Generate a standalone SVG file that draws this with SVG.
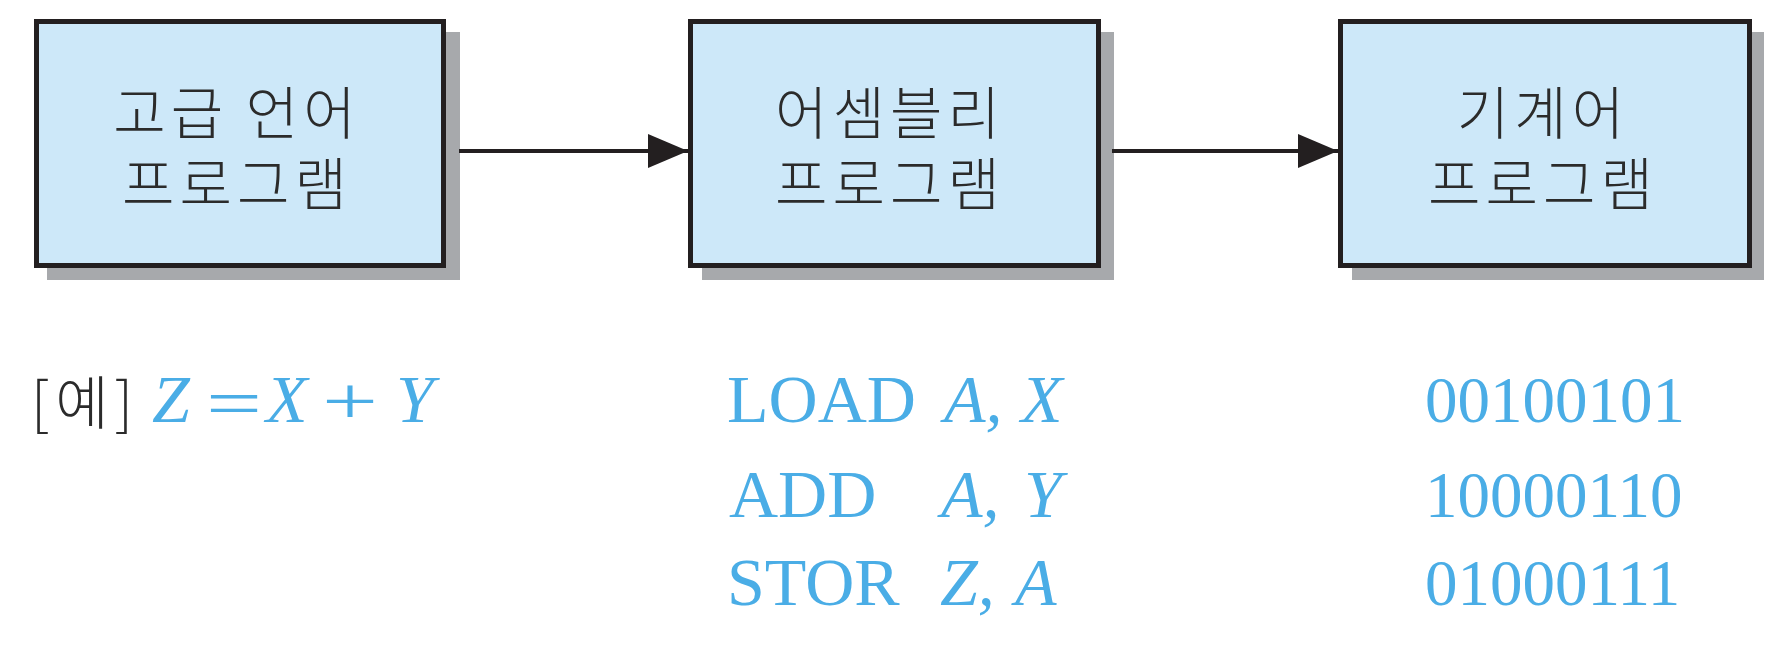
<svg xmlns="http://www.w3.org/2000/svg" width="1784" height="648" viewBox="0 0 1784 648">
<style>
.shadow{fill:#a7a9ac}
.box{fill:#cde8f9;stroke:#231f20;stroke-width:5}
.lbl{font-family:"Noto Sans CJK KR","Noto Sans",sans-serif;font-size:57px;font-weight:300;letter-spacing:5px;fill:#2b2b2b;text-anchor:middle}
.kr{font-family:"Noto Sans CJK KR","Noto Sans",sans-serif;font-size:58px;font-weight:300;letter-spacing:6px;fill:#2b2b2b}
.m{font-family:"Liberation Serif",serif;font-size:68px;fill:#4aade6}
.bin{font-family:"Liberation Serif",serif;font-size:65px;fill:#4aade6}
.it{font-style:italic}
.conn{stroke:#231f20;stroke-width:4;fill:none}
</style>
<defs>
<marker id="ah" markerUnits="userSpaceOnUse" markerWidth="40" markerHeight="34" refX="40" refY="17" orient="auto">
<path d="M0,0 L40,17 L0,34 Z" fill="#231f20"/>
</marker>
</defs>
<g id="node-high">
<rect class="shadow" x="47" y="32" width="413" height="248"/>
<rect class="box" x="36.5" y="21.5" width="407" height="244"/>
<text class="lbl" x="237" y="134">고급 언어</text>
<text class="lbl" x="237" y="205">프로그램</text>
</g>
<g id="node-asm">
<rect class="shadow" x="702" y="32" width="412" height="248"/>
<rect class="box" x="690.5" y="21.5" width="408" height="244"/>
<text class="lbl" x="890" y="134">어셈블리</text>
<text class="lbl" x="890" y="205">프로그램</text>
</g>
<g id="node-machine">
<rect class="shadow" x="1352" y="32" width="412" height="248"/>
<rect class="box" x="1340.5" y="21.5" width="409" height="244"/>
<text class="lbl" x="1543" y="134">기계어</text>
<text class="lbl" x="1543" y="205">프로그램</text>
</g>
<g id="connectors">
<line class="conn" x1="459" y1="151" x2="688" y2="151" marker-end="url(#ah)"/>
<line class="conn" x1="1112" y1="151" x2="1338" y2="151" marker-end="url(#ah)"/>
</g>
<g id="example">
<text class="kr" x="31" y="424">[예]</text>
<text class="m it" x="152" y="422">Z</text>
<text class="m" x="206" y="426" textLength="56" lengthAdjust="spacingAndGlyphs">=</text>
<text class="m it" x="266" y="422">X</text>
<text class="m" x="322" y="424" textLength="56" lengthAdjust="spacingAndGlyphs">+</text>
<text class="m it" x="396" y="422">Y</text>
</g>
<g id="assembly">
<text class="m" x="727" y="422">LOAD</text>
<text class="m it" x="944" y="422">A,</text>
<text class="m it" x="1021" y="422">X</text>
<text class="m" x="729" y="517">ADD</text>
<text class="m it" x="941" y="517">A,</text>
<text class="m it" x="1024" y="517">Y</text>
<text class="m" x="727" y="605">STOR</text>
<text class="m it" x="940" y="605">Z,</text>
<text class="m it" x="1015" y="605">A</text>
</g>
<g id="machine-code">
<text class="bin" x="1425" y="422">00100101</text>
<text class="bin" x="1425" y="517">10000110</text>
<text class="bin" x="1425" y="605">01000111</text>
</g>
</svg>
